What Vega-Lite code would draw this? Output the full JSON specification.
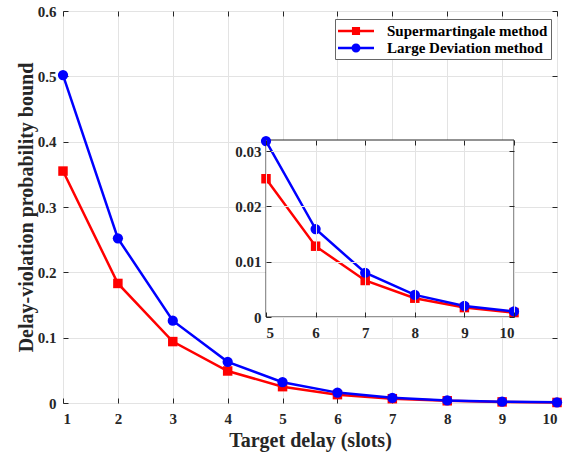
{
  "$schema": "https://vega.github.io/schema/vega-lite/v6.json",
  "width": 494,
  "height": 392,
  "autosize": {"type": "none"},
  "padding": {"left": 63, "top": 11, "right": 14, "bottom": 51},
  "background": "white",
  "data": {
    "values": [
      {"delay": 1, "method": "Supermartingale method", "value": 0.355},
      {"delay": 2, "method": "Supermartingale method", "value": 0.183},
      {"delay": 3, "method": "Supermartingale method", "value": 0.094},
      {"delay": 4, "method": "Supermartingale method", "value": 0.049},
      {"delay": 5, "method": "Supermartingale method", "value": 0.025},
      {"delay": 6, "method": "Supermartingale method", "value": 0.0128},
      {"delay": 7, "method": "Supermartingale method", "value": 0.0066},
      {"delay": 8, "method": "Supermartingale method", "value": 0.0034},
      {"delay": 9, "method": "Supermartingale method", "value": 0.0017},
      {"delay": 10, "method": "Supermartingale method", "value": 0.0008},
      {"delay": 1, "method": "Large Deviation method", "value": 0.502},
      {"delay": 2, "method": "Large Deviation method", "value": 0.252},
      {"delay": 3, "method": "Large Deviation method", "value": 0.126},
      {"delay": 4, "method": "Large Deviation method", "value": 0.063},
      {"delay": 5, "method": "Large Deviation method", "value": 0.0318},
      {"delay": 6, "method": "Large Deviation method", "value": 0.0159},
      {"delay": 7, "method": "Large Deviation method", "value": 0.008},
      {"delay": 8, "method": "Large Deviation method", "value": 0.004},
      {"delay": 9, "method": "Large Deviation method", "value": 0.002},
      {"delay": 10, "method": "Large Deviation method", "value": 0.001}
    ]
  },
  "layer": [
    {
      "layer": [
        {
          "mark": {"type": "line", "strokeWidth": 2.5},
          "encoding": {
            "x": {"field": "delay", "type": "quantitative", "scale": {"domain": [1, 10], "nice": false, "zero": false},
              "axis": {"orient": "bottom", "values": [1,2,3,4,5,6,7,8,9,10], "format": "d", "grid": true, "title": "Target delay (slots)", "labelPadding": 13, "titlePadding": 4}},
            "y": {"field": "value", "type": "quantitative", "scale": {"domain": [0, 0.6], "nice": false},
              "axis": {"orient": "left", "values": [0,0.1,0.2,0.3,0.4,0.5,0.6], "format": "~g", "grid": true, "title": "Delay-violation probability bound", "labelPadding": 12, "titlePadding": 1}},
            "color": {"field": "method", "type": "nominal", "scale": {"range": ["#0000ff", "#ff0000"]}, "legend": null}
          }
        },
        {
          "transform": [{"filter": "datum.method == 'Supermartingale method'"}],
          "mark": {"type": "point", "shape": "square", "filled": true, "size": 90, "opacity": 1},
          "encoding": {
            "x": {"field": "delay", "type": "quantitative", "axis": null},
            "y": {"field": "value", "type": "quantitative", "axis": null},
            "color": {"field": "method", "type": "nominal", "legend": null}
          }
        },
        {
          "transform": [{"filter": "datum.method == 'Large Deviation method'"}],
          "mark": {"type": "point", "shape": "circle", "filled": true, "size": 105, "opacity": 1},
          "encoding": {
            "x": {"field": "delay", "type": "quantitative", "axis": null},
            "y": {"field": "value", "type": "quantitative", "axis": null},
            "color": {"field": "method", "type": "nominal", "legend": null}
          }
        },
        {
          "mark": {"type": "line", "opacity": 0},
          "encoding": {
            "x": {"field": "delay", "type": "quantitative", "axis": {"orient": "top", "values": [1,2,3,4,5,6,7,8,9,10], "labels": false, "grid": false, "title": null}},
            "y": {"field": "value", "type": "quantitative", "axis": {"orient": "right", "values": [0,0.1,0.2,0.3,0.4,0.5,0.6], "labels": false, "grid": false, "title": null}},
            "detail": {"field": "method"}
          }
        },
        {
          "mark": {"type": "point", "filled": true, "opacity": 0},
          "encoding": {
            "x": {"field": "delay", "type": "quantitative", "axis": null},
            "y": {"field": "value", "type": "quantitative", "axis": null},
            "fill": {"field": "method", "type": "nominal",
              "scale": {"domain": ["Supermartingale method", "Large Deviation method"], "range": ["#ff0000", "#0000ff"]},
              "legend": {"orient": "none", "legendX": 272, "legendY": 8, "title": null, "symbolSize": 324, "symbolStrokeWidth": 0, "symbolOpacity": 1, "symbolOffset": 9, "rowPadding": 0, "padding": 3, "labelOffset": 22, "labelFont": "Liberation Serif", "labelFontWeight": "bold", "labelFontSize": 15, "labelColor": "#000000", "labelLimit": 400, "strokeColor": "#666666", "fillColor": "#ffffff"}},
            "shape": {"field": "method", "type": "nominal",
              "scale": {"domain": ["Supermartingale method", "Large Deviation method"],
                "range": ["M-2,-0.14H2V0.14H-2Z M-0.45,-0.45H0.45V0.45H-0.45Z", "M-2,-0.14H2V0.14H-2Z M0.5,0 A0.5,0.5 0 1,1 -0.5,0 A0.5,0.5 0 1,1 0.5,0Z"]},
              "legend": {"orient": "none", "legendX": 272, "legendY": 8, "title": null, "symbolSize": 324, "symbolStrokeWidth": 0, "symbolOpacity": 1, "symbolOffset": 9, "rowPadding": 0, "padding": 3, "labelOffset": 22, "labelFont": "Liberation Serif", "labelFontWeight": "bold", "labelFontSize": 15, "labelColor": "#000000", "labelLimit": 400, "strokeColor": "#666666", "fillColor": "#ffffff"}}
          }
        }
      ],
      "resolve": {"axis": {"x": "independent", "y": "independent"}}
    },
    {
      "transform": [{"filter": "datum.delay >= 5"}],
      "layer": [
        {
          "data": {"values": [{}]},
          "mark": {"type": "rect", "fill": "#ffffff", "stroke": "#262626", "strokeWidth": 1},
          "encoding": {
            "x": {"datum": 5, "type": "quantitative", "scale": {"domain": [5, 10], "range": [203, 451], "nice": false, "zero": false},
              "axis": {"orient": "top", "offset": -129, "values": [5,6,7,8,9,10], "labels": false, "grid": true, "title": null, "zindex": 1}},
            "x2": {"datum": 10},
            "y": {"datum": 0, "type": "quantitative", "scale": {"domain": [0, 0.032], "range": [306, 129], "nice": false},
              "axis": {"orient": "left", "offset": -203, "values": [0, 0.01, 0.02, 0.03], "format": "~g", "grid": true, "title": null, "labelPadding": 10, "zindex": 1}},
            "y2": {"datum": 0.032}
          }
        },
        {
          "mark": {"type": "line", "strokeWidth": 2.5},
          "encoding": {
            "x": {"field": "delay", "type": "quantitative", "axis": {"orient": "bottom", "offset": -86, "values": [5,6,7,8,9,10], "format": "d", "grid": false, "title": null, "labelPadding": 13, "zindex": 1}},
            "y": {"field": "value", "type": "quantitative", "axis": {"orient": "right", "offset": -43, "values": [0, 0.01, 0.02, 0.03], "labels": false, "grid": false, "title": null, "zindex": 1}},
            "color": {"field": "method", "type": "nominal", "legend": null}
          }
        },
        {
          "transform": [{"filter": "datum.method == 'Supermartingale method'"}],
          "mark": {"type": "point", "shape": "square", "filled": true, "size": 90, "opacity": 1},
          "encoding": {
            "x": {"field": "delay", "type": "quantitative", "axis": null},
            "y": {"field": "value", "type": "quantitative", "axis": null},
            "color": {"field": "method", "type": "nominal", "legend": null}
          }
        },
        {
          "transform": [{"filter": "datum.method == 'Large Deviation method'"}],
          "mark": {"type": "point", "shape": "circle", "filled": true, "size": 105, "opacity": 1},
          "encoding": {
            "x": {"field": "delay", "type": "quantitative", "axis": null},
            "y": {"field": "value", "type": "quantitative", "axis": null},
            "color": {"field": "method", "type": "nominal", "legend": null}
          }
        }
      ],
      "resolve": {"axis": {"x": "independent", "y": "independent"}}
    }
  ],
  "resolve": {"scale": {"x": "independent", "y": "independent"}},
  "config": {
    "view": {"stroke": "#262626", "strokeWidth": 1},
    "axis": {
      "labelFont": "Liberation Serif", "labelFontWeight": "bold", "labelFontSize": 15, "labelColor": "#262626",
      "titleFont": "Liberation Serif", "titleFontWeight": "bold", "titleFontSize": 20, "titleColor": "#262626",
      "domain": false, "tickColor": "#262626", "tickSize": -5, "tickWidth": 1,
      "gridColor": "#e3e3e3", "gridWidth": 1, "gridOpacity": 1
    }
  }
}
